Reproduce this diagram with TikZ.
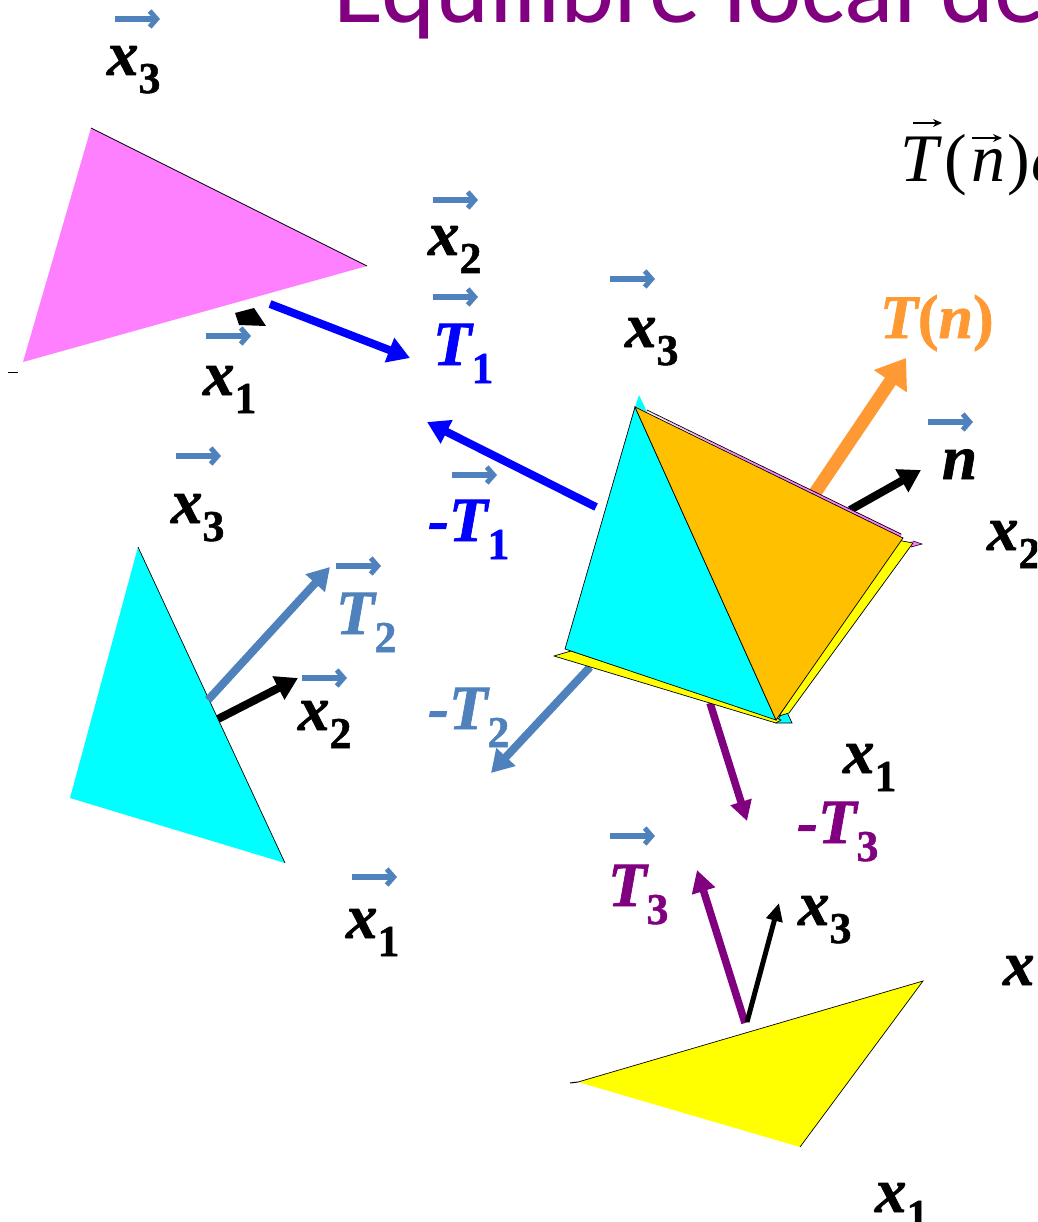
\documentclass[tikz,border=0pt]{standalone}
\usepackage{fontspec}
\setmainfont[BoldItalicFeatures={FakeBold=1.15},BoldFeatures={FakeBold=1.15}]{Liberation Serif}
\newfontfamily\titlefont{Carlito}
\usetikzlibrary{arrows.meta}
\definecolor{steel}{HTML}{4F81BD}
\definecolor{purp}{HTML}{800080}
\definecolor{orng}{HTML}{FF9933}
\definecolor{pnk}{HTML}{FF80FF}
\definecolor{gold}{HTML}{FFC000}
\definecolor{blu}{HTML}{0000FF}
\definecolor{cyn}{HTML}{00FFFF}
\definecolor{ylw}{HTML}{FFFF00}
\newcommand\lblsub[2]{{\fontsize{63}{63}\selectfont\bfseries\itshape #1\raisebox{-18pt}{\fontsize{44}{44}\selectfont\upshape #2}}}
\newcommand\ovarrow[3]{\coordinate (o#1a) at (#2,#3); \coordinate (o#1b) at ({#2+45},#3); \draw[ovar] (o#1a) -- (o#1b);}
\tikzset{
  lab/.style={anchor=base west,inner sep=0pt,outer sep=0pt},
  frm/.style={anchor=base west,inner sep=0pt,outer sep=0pt,font=\fontsize{68}{68}\selectfont},
  ovar/.style={draw=steel,line width=5.5pt,-{Straight Barb[length=7pt,width=16pt,line width=5pt]}},
  vecar/.style={line width=8pt,-{Triangle[length=22pt,width=25pt]}},
  edge/.style={draw=black,line width=.7pt},
}
\begin{document}
\begin{tikzpicture}[x=1pt,y=-1pt]
\useasboundingbox (0,0) rectangle (1037,1222);
\clip (0,0) rectangle (1037,1222);
% title and formula
\node[lab,text=purp] (title) at (333,23) {\titlefont\fontsize{103}{103}\selectfont Equilibre local de};
\node[frm] (fT) at (900,182) {\itshape T};
\node[frm] (fl) at (944,182) {(};
\node[frm] (fn) at (971,182) {\itshape n};
\node[frm] (fr) at (1007,182) {)};
\node[frm] (fd) at (1031,182) {\itshape d};
\coordinate (fta) at (913,123); \coordinate (ftb) at (942,123);
\draw[line width=1.8pt,-{Stealth[length=9pt,width=8pt]}] (fta) -- (ftb);
\coordinate (fna) at (972,138); \coordinate (fnb) at (1002,138);
\draw[line width=1.8pt,-{Stealth[length=9pt,width=8pt]}] (fna) -- (fnb);
% magenta face
\coordinate (ma) at (91,128); \coordinate (mb) at (367,266); \coordinate (mc) at (23,362);
\fill[pnk] (ma) -- (mb) -- (mc) -- cycle;
\draw[line width=.7pt] (ma) -- (mb);
\draw[line width=1pt] (8,372) -- (18,372);
% cyan face
\coordinate (ca) at (138,547); \coordinate (cb) at (285,863); \coordinate (cc) at (70,798);
\fill[cyn] (ca) -- (cb) -- (cc) -- cycle;
\draw[line width=.7pt] (ca) -- (cb);
% yellow face
\coordinate (ya) at (923,981); \coordinate (yb) at (800,1147); \coordinate (yc) at (578,1082);
\fill[ylw] (ya) -- (yb) -- (yc) -- cycle;
\draw[line width=.7pt] (yc) -- (ya) -- (yb);
\draw[line width=1pt] (570,1083) -- (578,1082);
% force arrows
\fill (235,313) -- (254,308) -- (266,326) -- (239,325) -- cycle;
\coordinate (t1s) at (270,304); \coordinate (t1e) at (410,358);
\draw[blu,vecar] (t1s) -- (t1e);
\coordinate (mt1s) at (596,507); \coordinate (mt1e) at (427,422);
\draw[blu,vecar] (mt1s) -- (mt1e);
\coordinate (t2s) at (208,700); \coordinate (t2e) at (330,567);
\draw[steel,vecar] (t2s) -- (t2e);
\coordinate (mt2s) at (590,667); \coordinate (mt2e) at (491,773);
\draw[steel,vecar] (mt2s) -- (mt2e);
\coordinate (x2s) at (218,719); \coordinate (x2e) at (298,678);
\draw[black,vecar] (x2s) -- (x2e);
\coordinate (ns) at (850,510); \coordinate (ne) at (921,470);
\draw[black,vecar] (ns) -- (ne);
\coordinate (tns) at (815,493); \coordinate (tne) at (906,358);
\draw[orng,line width=13pt,-{Triangle[length=28pt,width=38pt]}] (tns) -- (tne);
\coordinate (mt3s) at (710,703); \coordinate (mt3e) at (747,821);
\draw[purp,line width=7.5pt,-{Triangle[length=20pt,width=21pt]}] (mt3s) -- (mt3e);
\coordinate (t3s) at (745,1023); \coordinate (t3e) at (697,870);
\draw[purp,line width=7.5pt,-{Triangle[length=22pt,width=23pt]}] (t3s) -- (t3e);
\coordinate (x3s) at (747,1022); \coordinate (x3e) at (779,903);
\draw[black,line width=5pt,-{Triangle[length=18pt,width=16pt]}] (x3s) -- (x3e);
% central tetrahedron
\fill[cyn] (639,395) -- (647,412) -- (635,407) -- cycle;
\fill[pnk] (635,405) -- (647,411) -- (902,534) -- (900,538) -- cycle;
\draw[line width=.7pt] (647,410) -- (901,534);
\draw[line width=.7pt,pnk] (635,407) -- (630,425);
\fill[pnk] (913,541) -- (922,544) -- (911,547) -- (898,546) -- cycle;
\draw[line width=.6pt] (913,541) -- (922,544) -- (911,547);
\filldraw[fill=cyn,edge] (785,708) -- (792,723) -- (776,723) -- cycle;
\filldraw[fill=ylw,edge] (913,543) -- (789,713) -- (779,716) -- (897,540) -- cycle;
\filldraw[fill=ylw,edge] (554,656) -- (571,651) -- (776,718) -- (781,720) -- (776,723) -- cycle;
\filldraw[fill=cyn,edge] (635,407) -- (776,720) -- (565,649) -- cycle;
\filldraw[fill=gold,edge] (635,407) -- (903,538) -- (776,720) -- cycle;
% labels
\node[lab] (lx3a) at (107,75) {\lblsub{x}{3}}; \ovarrow{1}{115}{19}
\node[lab] (lx2a) at (428,255) {\lblsub{x}{2}}; \ovarrow{2}{433}{200}
\node[lab,text=blu] (lt1) at (433,365) {\lblsub{T}{1}}; \ovarrow{3}{433}{297}
\node[lab] (lx3b) at (625,347) {\lblsub{x}{3}}; \ovarrow{4}{610}{279}
\node[lab] (lx1a) at (203,395) {\lblsub{x}{1}}; \ovarrow{5}{206}{336}
\node[lab] (lx3c) at (171,523) {\lblsub{x}{3}}; \ovarrow{6}{176}{456}
\node[lab,text=blu] (lmt1) at (428,541) {\lblsub{-T}{1}}; \ovarrow{7}{452}{475}
\node[lab,text=steel] (lt2) at (336,634) {\lblsub{T}{2}}; \ovarrow{8}{336}{566}
\node[lab] (lx2b) at (298,730) {\lblsub{x}{2}}; \ovarrow{9}{302}{678}
\node[lab,text=steel] (lmt2) at (428,729) {\lblsub{-T}{2}};
\node[lab] (lx1b) at (346,938) {\lblsub{x}{1}}; \ovarrow{10}{352}{877}
\node[lab,text=purp] (lt3) at (608,906) {\lblsub{T}{3}}; \ovarrow{11}{610}{836}
\node[lab,text=purp] (lmt3) at (797,843) {\lblsub{-T}{3}};
\node[lab] (lx3d) at (798,925) {\lblsub{x}{3}};
\node[lab] (lx1c) at (843,773) {\lblsub{x}{1}};
\node[lab] (lx) at (1003,985) {\lblsub{x}{}};
\node[lab] (lx1d) at (875,1212) {\lblsub{x}{1}};
\node[lab] (lx2c) at (987,550) {\lblsub{x}{2}};
\node[lab] (ln) at (942,479) {\lblsub{n}{}}; \ovarrow{12}{928}{422}
\node[lab,text=orng] (ltn) at (880,338) {\fontsize{62}{62}\selectfont\bfseries\itshape T\upshape(\itshape n\upshape)};
\end{tikzpicture}
\end{document}
